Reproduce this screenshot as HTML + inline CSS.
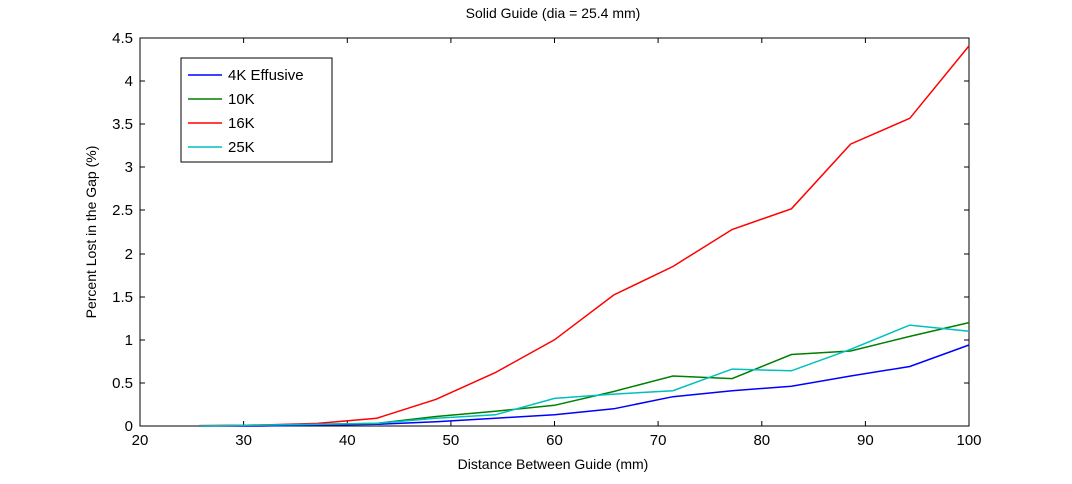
<!DOCTYPE html>
<html><head><meta charset="utf-8"><style>body{margin:0;background:#fff}</style></head>
<body>
<svg width="1072" height="479" xmlns="http://www.w3.org/2000/svg" font-family="Liberation Sans, sans-serif">
<rect width="1072" height="479" fill="#fff"/>
<text x="553" y="18" font-size="14" text-anchor="middle">Solid Guide (dia = 25.4 mm)</text>
<rect x="140" y="38" width="829" height="388" fill="none" stroke="#000" stroke-width="1"/>
<g stroke="#000" stroke-width="1">
<path d="M243.6 426v-5M347.3 426v-5M450.9 426v-5M554.5 426v-5M658.1 426v-5M761.8 426v-5M865.4 426v-5M243.6 38v5M347.3 38v5M450.9 38v5M554.5 38v5M658.1 38v5M761.8 38v5M865.4 38v5"/>
<path d="M140 383h5M140 340h5M140 297h5M140 254h5M140 210h5M140 167h5M140 124h5M140 81h5M969 383h-5M969 340h-5M969 297h-5M969 254h-5M969 210h-5M969 167h-5M969 124h-5M969 81h-5"/>
</g>
<g font-size="15" text-anchor="middle">
<text x="140" y="445">20</text><text x="243.6" y="445">30</text><text x="347.3" y="445">40</text><text x="450.9" y="445">50</text><text x="554.5" y="445">60</text><text x="658.1" y="445">70</text><text x="761.8" y="445">80</text><text x="865.4" y="445">90</text><text x="969" y="445">100</text>
</g>
<g font-size="15" text-anchor="end">
<text x="133" y="431">0</text><text x="133" y="388">0.5</text><text x="133" y="345">1</text><text x="133" y="302">1.5</text><text x="133" y="259">2</text><text x="133" y="215">2.5</text><text x="133" y="172">3</text><text x="133" y="129">3.5</text><text x="133" y="86">4</text><text x="133" y="43">4.5</text>
</g>
<text x="553" y="469" font-size="14" text-anchor="middle">Distance Between Guide (mm)</text>
<text transform="translate(96 232) rotate(-90)" font-size="14" text-anchor="middle">Percent Lost in the Gap (%)</text>
<script>
var b=[0,0,0.01,0.02,0.05,0.09,0.13,0.2,0.34,0.41,0.46,0.58,0.69,0.94],
g=[0,0.01,0.02,0.03,0.11,0.17,0.24,0.4,0.58,0.55,0.83,0.87,1.04,1.2],
r=[0.005,0.01,0.03,0.09,0.31,0.62,1.0,1.52,1.85,2.28,2.52,3.27,3.57,4.41],
c=[0,0.01,0.02,0.03,0.09,0.13,0.32,0.37,0.41,0.66,0.64,0.89,1.17,1.1];
function pts(a){return a.map(function(v,i){var x=100-(13-i)*40/7;return (140+(x-20)*829/80).toFixed(1)+','+(426-v*86.2).toFixed(1)}).join(' ')}
var s=document.currentScript.parentNode,ns='http://www.w3.org/2000/svg';
[[b,'#0000ff'],[g,'#008000'],[r,'#ff0000'],[c,'#00bfbf']].forEach(function(d){var p=document.createElementNS(ns,'polyline');p.setAttribute('points',pts(d[0]));p.setAttribute('fill','none');p.setAttribute('stroke',d[1]);p.setAttribute('stroke-width','1.5');s.appendChild(p)});
</script>
<rect x="181" y="58" width="151" height="104" fill="#fff" stroke="#000"/>
<g stroke-width="1.5">
<line x1="188" y1="75" x2="222" y2="75" stroke="#0000ff"/>
<line x1="188" y1="99" x2="222" y2="99" stroke="#008000"/>
<line x1="188" y1="123" x2="222" y2="123" stroke="#ff0000"/>
<line x1="188" y1="147" x2="222" y2="147" stroke="#00bfbf"/>
</g>
<g font-size="15"><text x="228" y="80">4K Effusive</text><text x="228" y="104">10K</text><text x="228" y="128">16K</text><text x="228" y="152">25K</text></g>
</svg>
</body></html>
